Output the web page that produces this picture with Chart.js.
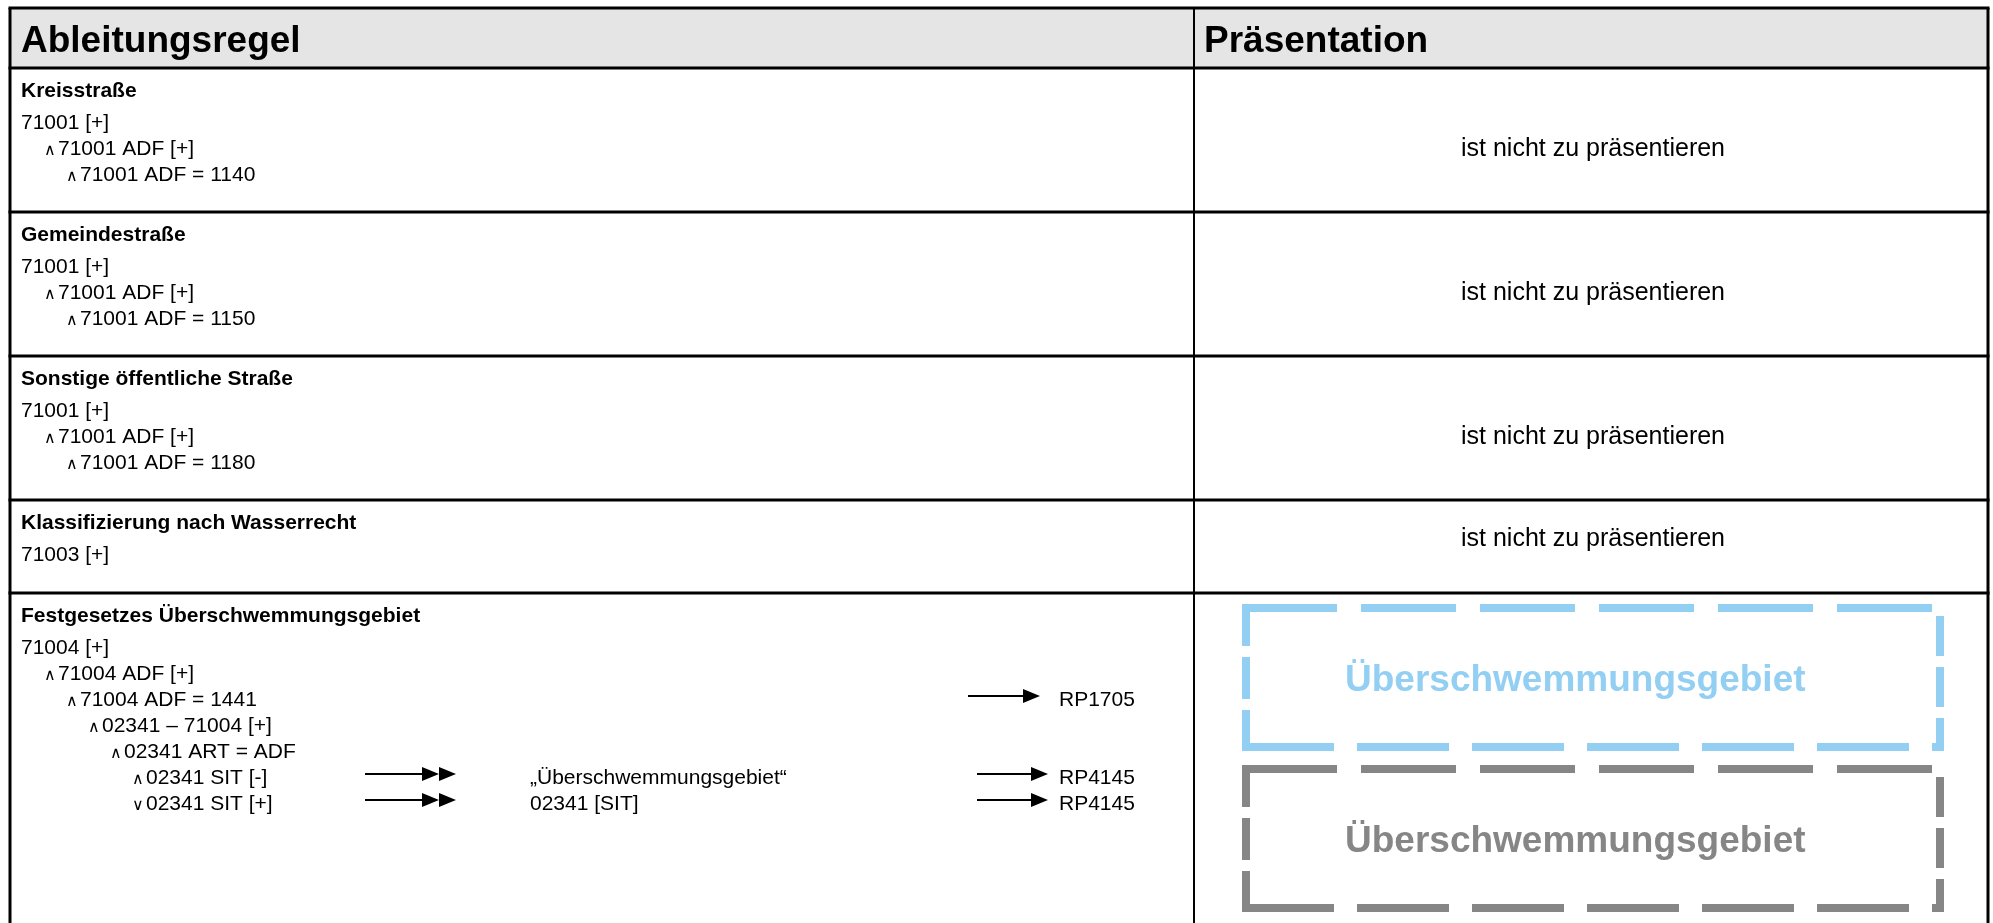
<!DOCTYPE html>
<html lang="de">
<head>
    <meta charset="UTF-8">
    <title>Ableitungsregel – Präsentation</title>
    <script src="https://cdn.jsdelivr.net/npm/chart.js"></script>
    <style>
        html, body { margin: 0; padding: 0; background: #fff; overflow: hidden; }
        #wrap { width: 1993px; height: 923px; }
        canvas { display: block; }
    </style>
</head>
<body>
<div id="wrap"><canvas id="tabelle"></canvas></div>

<script>
    // --- Inhalt der Tabelle ---
    const headers = ['Ableitungsregel', 'Präsentation'];
    const ruleTitles = [
        'Kreisstraße',
        'Gemeindestraße',
        'Sonstige öffentliche Straße',
        'Klassifizierung nach Wasserrecht',
        'Festgesetzes Überschwemmungsgebiet'
    ];
    const ruleLines = [
        ['71001 [+]', '∧ 71001 ADF [+]', '∧ 71001 ADF = 1140'],
        ['71001 [+]', '∧ 71001 ADF [+]', '∧ 71001 ADF = 1150'],
        ['71001 [+]', '∧ 71001 ADF [+]', '∧ 71001 ADF = 1180'],
        ['71003 [+]'],
        ['71004 [+]', '∧ 71004 ADF [+]', '∧ 71004 ADF = 1441', '∧ 02341 – 71004 [+]',
         '∧ 02341 ART = ADF', '∧ 02341 SIT [-]', '∨ 02341 SIT [+]']
    ];
    const ruleLevels = [
        [0, 1, 2],
        [0, 1, 2],
        [0, 1, 2],
        [0],
        [0, 1, 2, 3, 4, 5, 5]
    ];
    const presentations = [
        'ist nicht zu präsentieren',
        'ist nicht zu präsentieren',
        'ist nicht zu präsentieren',
        'ist nicht zu präsentieren',
        null
    ];
    // Signaturen der letzten Regel: Zeile, Textausgabe, Signaturnummer
    const signatureLines = [2, 5, 6];
    const signatureTexts = [null, '„Überschwemmungsgebiet“', '02341 [SIT]'];
    const signatureCodes = ['RP1705', 'RP4145', 'RP4145'];
    const areaLabels = ['Überschwemmungsgebiet', 'Überschwemmungsgebiet'];
    const areaColors = ['#92cff3', '#868686'];

    // --- Layout (Pixel im 1993x923 Raster) ---
    const W = 1993, H = 923;
    const FONT = '"Liberation Sans", Arial, Helvetica, sans-serif';
    const layout = {
        left: 10, right: 1988, divider: 1194,
        rowEdges: [8, 68, 212, 356, 500, 593],
        titleOffset: 29, firstLineOffset: 61, lineStep: 26,
        textX: 21, indent: 22,
        presentX: 1593, presentOffsets: [81, 81, 81, 39],
        dblArrow: [365, 456], textCol: 530,
        sglArrowFrom: [968, 977, 977], sglArrowTo: [1040, 1048, 1048], codeCol: 1059,
        boxX: [1246, 1940], boxY: [[608, 747], [769, 908]],
        boxTextX: 1345
    };

    function line(ctx, x1, y1, x2, y2) {
        ctx.beginPath();
        ctx.moveTo(x1, y1);
        ctx.lineTo(x2, y2);
        ctx.stroke();
    }

    function head(ctx, tip, y) {
        ctx.beginPath();
        ctx.moveTo(tip, y);
        ctx.lineTo(tip - 17, y - 7);
        ctx.lineTo(tip - 17, y + 7);
        ctx.closePath();
        ctx.fill();
    }

    const tablePlugin = {
        id: 'tablePlugin',
        afterDraw(chart) {
            const ctx = chart.ctx;
            const sx = v => chart.scales.x.getPixelForValue(v);
            const sy = v => chart.scales.y.getPixelForValue(v);
            const L = layout;
            const rows = L.rowEdges;
            ctx.save();

            // Kopfzeile
            ctx.fillStyle = '#e5e5e5';
            ctx.fillRect(sx(L.left), sy(rows[0]), sx(L.right) - sx(L.left), sy(rows[1]) - sy(rows[0]));
            ctx.fillStyle = '#000';
            ctx.textBaseline = 'alphabetic';
            ctx.font = 'bold 37px ' + FONT;
            ctx.fillText(headers[0], sx(L.textX), sy(52));
            ctx.fillText(headers[1], sx(L.divider + 10), sy(52));

            // Regeln
            ruleTitles.forEach((title, r) => {
                const top = rows[r + 1];
                ctx.fillStyle = '#000';
                ctx.textAlign = 'left';
                ctx.font = 'bold 21px ' + FONT;
                ctx.fillText(title, sx(L.textX), sy(top + L.titleOffset));
                ruleLines[r].forEach((txt, i) => {
                    const lvl = ruleLevels[r][i];
                    const base = top + L.firstLineOffset + i * L.lineStep;
                    let x = L.textX + lvl * L.indent + (lvl > 0 ? 1 : 0);
                    if (txt[0] === '∧' || txt[0] === '∨') {
                        ctx.font = '16px "DejaVu Sans", sans-serif';
                        ctx.fillText(txt[0], sx(x), sy(base));
                        txt = txt.slice(2);
                        x += 14;
                    }
                    ctx.font = '21px ' + FONT;
                    ctx.fillText(txt, sx(x), sy(base));
                });
                if (presentations[r]) {
                    ctx.textAlign = 'center';
                    ctx.textBaseline = 'middle';
                    ctx.font = '25px ' + FONT;
                    ctx.fillText(presentations[r], sx(L.presentX), sy(top + L.presentOffsets[r]));
                    ctx.textBaseline = 'alphabetic';
                    ctx.textAlign = 'left';
                }
            });

            // Signaturen (letzte Regel)
            const lastTop = rows[rows.length - 1];
            ctx.strokeStyle = '#000';
            ctx.fillStyle = '#000';
            ctx.lineWidth = 2;
            signatureLines.forEach((li, k) => {
                const base = lastTop + L.firstLineOffset + li * L.lineStep;
                const ay = sy(base - 10);
                if (signatureTexts[k]) {
                    line(ctx, sx(L.dblArrow[0]), ay, sx(L.dblArrow[1] - 30), ay);
                    head(ctx, sx(L.dblArrow[1] - 17), ay);
                    head(ctx, sx(L.dblArrow[1]), ay);
                    ctx.font = '21px ' + FONT;
                    ctx.fillText(signatureTexts[k], sx(L.textCol), sy(base));
                }
                line(ctx, sx(L.sglArrowFrom[k]), ay, sx(L.sglArrowTo[k] - 14), ay);
                head(ctx, sx(L.sglArrowTo[k]), ay);
                ctx.font = '21px ' + FONT;
                ctx.fillText(signatureCodes[k], sx(L.codeCol), sy(base));
            });

            // Flächensignaturen (gestrichelte Rahmen)
            ctx.lineWidth = 8;
            ctx.lineCap = 'butt';
            areaLabels.forEach((label, b) => {
                const [x1, x2] = L.boxX;
                const [y1, y2] = L.boxY[b];
                ctx.strokeStyle = areaColors[b];
                ctx.setLineDash([95, 24]);
                line(ctx, sx(x1 - 4), sy(y1), sx(x2 + 4), sy(y1));
                ctx.setLineDash([92, 23]);
                line(ctx, sx(x1 - 4), sy(y2), sx(x2 + 4), sy(y2));
                ctx.setLineDash([42, 11]);
                line(ctx, sx(x1), sy(y1 - 4), sx(x1), sy(y2 + 4));
                ctx.setLineDash([40, 11]);
                line(ctx, sx(x2), sy(y1 + 8), sx(x2), sy(y2 + 4));
                ctx.setLineDash([]);
                ctx.fillStyle = areaColors[b];
                ctx.font = 'bold 37px ' + FONT;
                ctx.textBaseline = 'alphabetic';
                ctx.fillText(label, sx(L.boxTextX), sy((y1 + y2) / 2 + 13));
            });

            // Tabellenlinien
            ctx.strokeStyle = '#000';
            ctx.lineWidth = 3;
            ctx.setLineDash([]);
            rows.forEach(yv => line(ctx, sx(L.left - 1.5), sy(yv), sx(L.right + 1.5), sy(yv)));
            line(ctx, sx(L.left), sy(rows[0]), sx(L.left), sy(H));
            line(ctx, sx(L.right), sy(rows[0]), sx(L.right), sy(H));
            ctx.lineWidth = 2;
            line(ctx, sx(L.divider), sy(rows[0]), sx(L.divider), sy(H));

            ctx.restore();
        }
    };

    new Chart(document.getElementById('tabelle'), {
        type: 'scatter',
        data: { datasets: [] },
        options: {
            responsive: true,
            maintainAspectRatio: false,
            animation: false,
            devicePixelRatio: 1,
            layout: { padding: 0 },
            plugins: { legend: { display: false }, tooltip: { enabled: false } },
            scales: {
                x: { type: 'linear', min: 0, max: W, display: false },
                y: { type: 'linear', min: 0, max: H, reverse: true, display: false }
            }
        },
        plugins: [tablePlugin]
    });
</script>
</body>
</html>
